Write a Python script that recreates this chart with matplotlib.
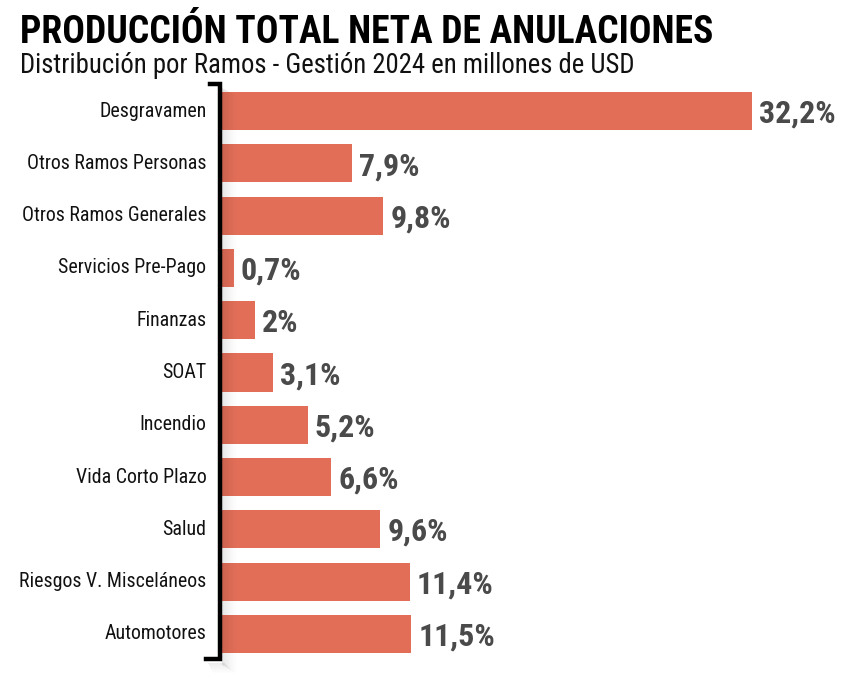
import matplotlib.pyplot as plt
from matplotlib.lines import Line2D
from matplotlib import font_manager as fm

# data
ramos = ['Desgravamen', 'Otros Ramos Personas', 'Otros Ramos Generales',
         'Servicios Pre-Pago', 'Finanzas', 'SOAT', 'Incendio',
         'Vida Corto Plazo', 'Salud', 'Riesgos V. Misceláneos', 'Automotores']
valores = [32.2, 7.9, 9.8, 0.7, 2, 3.1, 5.2, 6.6, 9.6, 11.4, 11.5]
etiquetas = ['32,2%', '7,9%', '9,8%', '0,7%', '2%', '3,1%', '5,2%',
             '6,6%', '9,6%', '11,4%', '11,5%']

# pick a condensed face if there is one, else shrink DejaVu
installed = set(f.name for f in fm.fontManager.ttflist)
fam = 'DejaVu Sans'
k = 0.78
for cand in ['Roboto Condensed', 'Open Sans Condensed', 'Barlow Semi Condensed',
             'Liberation Sans Narrow']:
    if cand in installed:
        fam, k = cand, 1.0
        break
fams = [fam, 'DejaVu Sans']

W, H = 860, 685
fig = plt.figure(figsize=(W / 100, H / 100), dpi=100)

# axes box in pixels: left 222, right 860, top 85, bottom 660
ax = fig.add_axes([222 / W, (H - 660) / H, (W - 222) / W, 575 / H])
ypos = list(range(len(ramos)))
ax.barh(ypos, valores, height=0.73, color='#e26e58', zorder=2)
ax.set_xlim(0, 638 / 16.46)
ax.set_ylim(10.5, -0.5)
ax.axis('off')

for y, v, lab in zip(ypos, valores, etiquetas):
    ax.text(v + 0.45, y + 0.05, lab, va='center', ha='left', fontsize=23 * k,
            fontweight='bold', color='#4a4a4a', family=fams)
    ax.text(-0.95, y, ramos[y], va='center', ha='right', fontsize=14.3 * k,
            color='#111111', family=fams, clip_on=False)

# bracket with a soft shadow
pix = fig.transFigure
def px(x, y):
    return x / W, (H - y) / H

n = 16
for i in range(n):
    a = 0.10 * (1 - i / n) ** 1.5
    x0, y0 = px(222 + i, 88 + i * 0.5)
    x1, y1 = px(222 + i, 664 + i * 0.6)
    fig.add_artist(Line2D([x0, x1], [y0, y1], color='black',
                          alpha=a, lw=0.75, transform=pix, zorder=1))
for i in range(10):
    a = 0.07 * (1 - i / 10)
    x0, y0 = px(208 + i * 0.5, 663 + i)
    x1, y1 = px(224 + i, 663 + i)
    fig.add_artist(Line2D([x0, x1], [y0, y1], color='black',
                          alpha=a, lw=0.75, transform=pix, zorder=1))
xs, ys = zip(px(210, 84), px(220, 84), px(220, 659), px(206, 659))
fig.add_artist(Line2D(xs, ys, color='black', lw=3.2, transform=pix,
                      solid_joinstyle='miter', zorder=3))

fig.text(20 / W, 1 - 43 / H, 'PRODUCCIÓN TOTAL NETA DE ANULACIONES',
         fontsize=27.1 * k, fontweight='bold', family=fams, color='black')
fig.text(20 / W, 1 - 73 / H, 'Distribución por Ramos - Gestión 2024 en millones de USD',
         fontsize=19.3 * k, family=fams, color='#111111')

fig.savefig('out.png', dpi=100, facecolor='white')
